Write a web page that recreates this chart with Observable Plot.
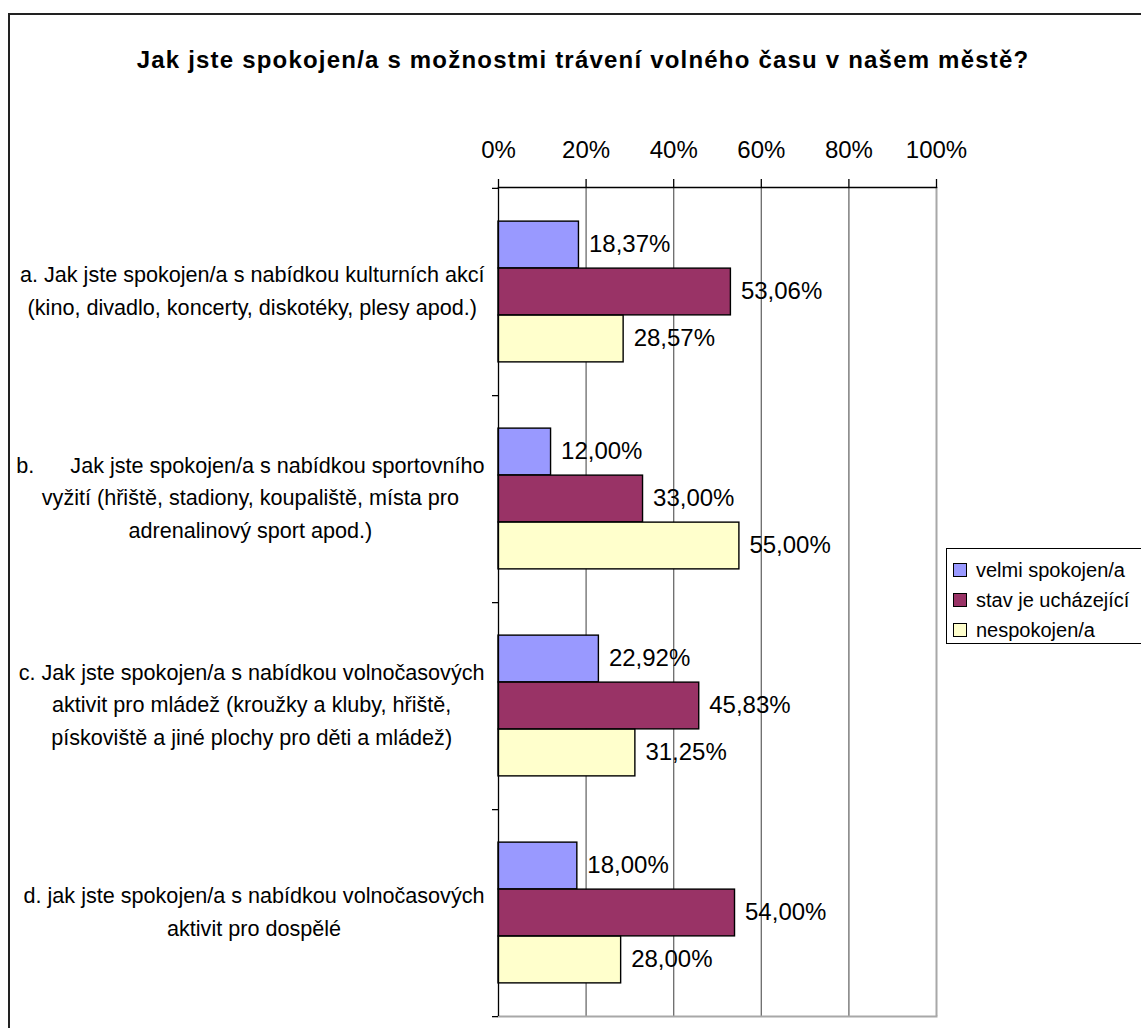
<!DOCTYPE html>
<html><head><meta charset="utf-8">
<script src="https://cdn.jsdelivr.net/npm/d3@7"></script>
<script src="https://cdn.jsdelivr.net/npm/@observablehq/plot@0.6"></script>
<style>
html,body{margin:0;padding:0;background:#fff;}
#wrap{position:relative;width:1141px;height:1028px;overflow:hidden;font-family:"Liberation Sans",Arial,sans-serif;color:#000;}
#border{position:absolute;left:8px;top:13px;width:1200px;height:1100px;border:2px solid #222;box-sizing:border-box;}
#chart{position:absolute;left:0;top:0;}
#title{position:absolute;left:0;width:1166px;top:46px;text-align:center;font-weight:bold;font-size:24px;letter-spacing:1.2px;white-space:nowrap;}
#legend{position:absolute;left:946px;top:548px;width:300px;height:96px;border:1px solid #000;background:#fff;box-sizing:border-box;}
.item{position:absolute;left:6px;height:24px;display:flex;align-items:center;font-size:20px;white-space:nowrap;}
.sw{width:12px;height:12px;border:1px solid #000;margin-right:9px;}
</style></head>
<body>
<div id="wrap">
  <div id="border"></div>
  <div id="chart"></div>
  <div id="title"></div>
  <div id="legend"></div>
</div>
<script>
const title = "Jak jste spokojen/a s možnostmi trávení volného času v našem městě?";
const categories = ["a", "b", "c", "d"];
const categoryLabels = [
  "a. Jak jste spokojen/a s nabídkou kulturních akcí\n(kino, divadlo, koncerty, diskotéky, plesy apod.)",
  "b.\u00a0\u00a0\u00a0\u00a0\u00a0 Jak jste spokojen/a s nabídkou sportovního\nvyžití (hřiště, stadiony, koupaliště, místa pro\nadrenalinový sport apod.)",
  "c. Jak jste spokojen/a s nabídkou volnočasových\naktivit pro mládež (kroužky a kluby, hřiště,\npískoviště a jiné plochy pro děti a mládež)",
  "d. jak jste spokojen/a s nabídkou volnočasových\naktivit pro dospělé"
];
const series = ["velmi spokojen/a", "stav je ucházející", "nespokojen/a"];
const colors = ["#9999FF", "#993366", "#FFFFCC"];
const velmiSpokojen = [18.37, 12.00, 22.92, 18.00];
const stavUchazejici = [53.06, 33.00, 45.83, 54.00];
const nespokojen = [28.57, 55.00, 31.25, 28.00];
const xTicks = [0, 20, 40, 60, 80, 100];

const values = [velmiSpokojen, stavUchazejici, nespokojen];
const rows = [];
series.forEach((s, si) => categories.forEach((c, ci) => rows.push({cat: c, series: s, value: values[si][ci]})));
const labelOf = new Map(categories.map((c, i) => [c, categoryLabels[i]]));
const fmt = v => d3.format(".2f")(v).replace(".", ",") + "%";

const W = 1141, H = 1028;
const mTop = 187, mBottom = 12, mLeft = 498, mRight = 205;
const step = (H - mTop - mBottom) / categories.length;
const barH = 47;
const inset = (step - barH) / 2;

const marks = [
  Plot.gridX([20, 40, 60, 80], {stroke: "#6a6a6a", strokeOpacity: 1, strokeWidth: 1.3}),
  Plot.ruleX([100], {stroke: "#a8a8a8", strokeWidth: 2}),
  Plot.frame({anchor: "bottom", stroke: "#a8a8a8", strokeWidth: 2}),
];
series.forEach((s, i) => {
  const data = rows.filter(r => r.series === s);
  marks.push(Plot.barX(data, {x: "value", y: "cat", fill: "series", stroke: "#000", strokeWidth: 1.4,
    insetTop: inset, insetBottom: inset, dy: (i - 1) * barH}));
  marks.push(Plot.text(data, {x: "value", y: "cat", text: d => fmt(d.value), dx: 10, dy: (i - 1) * barH - 1,
    textAnchor: "start", fontSize: 24, fill: "#000"}));
});
marks.push(
  Plot.ruleX([0], {stroke: "#000", strokeWidth: 1.3}),
  Plot.frame({anchor: "top", stroke: "#000", strokeWidth: 1.3}),
  Plot.ruleY(categories, {y: d => d, x1: 0, x2: 0, insetLeft: -6, dy: step / 2, stroke: "#000", strokeWidth: 1.3}),
  Plot.ruleY(categories.slice(0, 1), {y: d => d, x1: 0, x2: 0, insetLeft: -6, dy: -step / 2, stroke: "#000", strokeWidth: 1.3}),
  Plot.axisX(xTicks, {anchor: "top", label: null, tickSize: 9, tickPadding: 21, tickFormat: d => d + "%", fontSize: 24, stroke: "#000", strokeWidth: 1.3}),
  Plot.axisY({anchor: "left", label: null, tickSize: 0, tickPadding: 14, dy: -4, tickFormat: d => labelOf.get(d), fontSize: 21.6, lineHeight: 1.5})
);

const chart = Plot.plot({
  width: W, height: H,
  marginTop: mTop, marginBottom: mBottom, marginLeft: mLeft, marginRight: mRight,
  style: {fontFamily: "'Liberation Sans', Arial, sans-serif", color: "#000", background: "transparent", overflow: "visible"},
  x: {domain: [0, 100], label: null},
  y: {domain: categories, padding: 0, label: null},
  color: {domain: series, range: colors},
  marks
});
document.getElementById("chart").appendChild(chart);

// center each multi-line category label within its own block, right-aligned to the axis
chart.querySelectorAll('g[aria-label="y-axis tick label"] text').forEach(t => {
  const spans = t.querySelectorAll("tspan");
  if (!spans.length) return;
  let maxW = 0;
  spans.forEach(s => { maxW = Math.max(maxW, s.getComputedTextLength()); });
  t.setAttribute("text-anchor", "middle");
  spans.forEach(s => s.setAttribute("x", -maxW / 2));
});

document.getElementById("title").textContent = title;
const legend = document.getElementById("legend");
series.forEach((s, i) => {
  const it = document.createElement("div");
  it.className = "item";
  it.style.top = (9 + i * 30) + "px";
  const sw = document.createElement("div");
  sw.className = "sw";
  sw.style.background = colors[i];
  const tx = document.createElement("span");
  tx.textContent = s;
  it.appendChild(sw); it.appendChild(tx);
  legend.appendChild(it);
});
</script>
</body></html>
